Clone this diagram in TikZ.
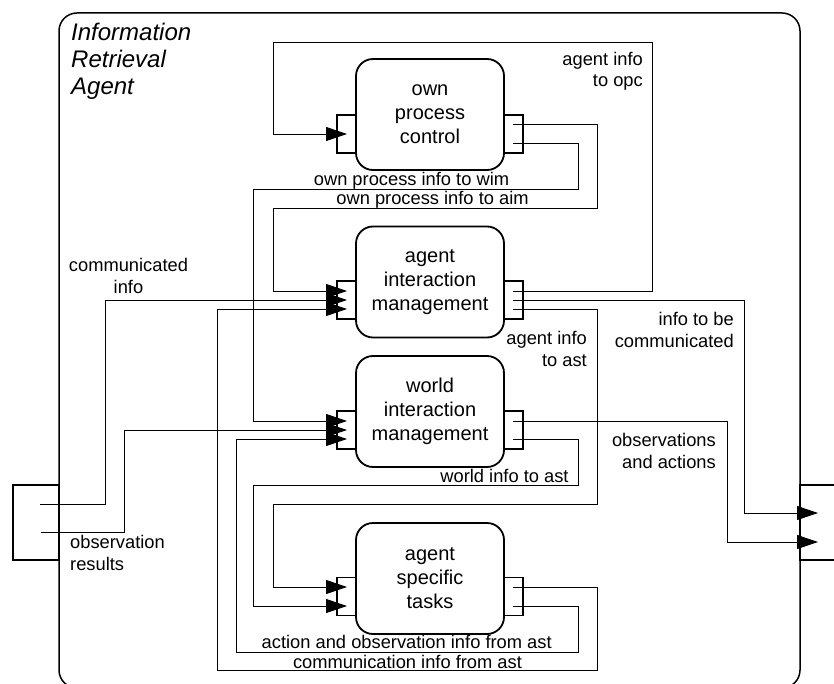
\documentclass[tikz,border=0pt]{standalone}
\usepackage{fontspec}
\setmainfont{Liberation Sans}
\usetikzlibrary{arrows.meta}
\begin{document}
\begin{tikzpicture}[x=1pt,y=-1pt,
  module/.style={draw,line width=1.8pt,rounded corners=17pt,fill=white,minimum width=148pt,minimum height=111pt,align=center,inner sep=0pt,font=\fontsize{20}{24}\selectfont},
  port/.style={draw,line width=1.8pt,minimum width=19pt,minimum height=38pt,inner sep=0pt},
  conn/.style={line width=0.9pt},
  arr/.style={conn,-{Triangle[length=21pt,width=14pt]}},
  lbl/.style={font=\fontsize{18.3}{21.5}\selectfont,inner sep=0pt},
]
\useasboundingbox (0,0) rectangle (834,684);
% outer agent box
\node[draw,line width=1.5pt,rounded corners=18pt,minimum width=741pt,minimum height=675pt,inner sep=0pt] (agent) at (429.5,350.5) {};
\node[anchor=base west,align=left,inner sep=0pt,font=\itshape\fontsize{24}{27}\selectfont] (title) at (71,95) {Information\\Retrieval\\Agent};
% agent ports
\node[draw,line width=1.5pt,minimum width=46pt,minimum height=75pt,inner sep=0pt] (inport) at (36,522.5) {};
\node[draw,line width=1.5pt,minimum width=50pt,minimum height=75pt,inner sep=0pt] (outport) at (825,522.5) {};
% modules
\node[port] (opcL) at (346.5,134) {};
\node[port] (opcR) at (513.5,134) {};
\node[module] (opc) at (430,114.5) {own\\process\\control};
\node[port] (aimL) at (346.5,300) {};
\node[port] (aimR) at (513.5,300) {};
\node[module] (aim) at (430,282) {agent\\interaction\\management};
\node[port] (wimL) at (346.5,430) {};
\node[port] (wimR) at (513.5,430) {};
\node[module] (wim) at (430,411.5) {world\\interaction\\management};
\node[port] (astL) at (346.5,596.5) {};
\node[port] (astR) at (513.5,596.5) {};
\node[module] (ast) at (430,578.5) {agent\\specific\\tasks};
% pins
\coordinate (opcI) at (347,134);
\coordinate (opcO1) at (513,124);
\coordinate (opcO2) at (513,143);
\coordinate (aimI1) at (347,291);
\coordinate (aimI2) at (347,300);
\coordinate (aimI3) at (347,309);
\coordinate (aimO1) at (513,291);
\coordinate (aimO2) at (513,300);
\coordinate (aimO3) at (513,309);
\coordinate (wimI1) at (347,421);
\coordinate (wimI2) at (347,430);
\coordinate (wimI3) at (347,439);
\coordinate (wimO1) at (513,421);
\coordinate (wimO3) at (513,439);
\coordinate (astI1) at (347,587);
\coordinate (astI2) at (347,606);
\coordinate (astO1) at (513,587);
\coordinate (astO2) at (513,606);
\coordinate (inO1) at (40,504);
\coordinate (inO2) at (41,532);
\coordinate (outI1) at (818,513);
\coordinate (outI2) at (818,542);
% connectors
\draw[arr] (aimO1) -| (652,42) -| (273,134) -- (opcI);
\draw[arr] (opcO1) -| (597,208) -| (273,291) -- (aimI1);
\draw[arr] (opcO2) -| (578,189) -| (253,421) -- (wimI1);
\draw[arr] (inO1) -| (105,300) -- (aimI2);
\draw[arr] (astO1) -| (597,670) -| (217,309) -- (aimI3);
\draw[arr] (aimO2) -| (744,513) -- (outI1);
\draw[arr] (aimO3) -| (597,504) -| (273,587) -- (astI1);
\draw[arr] (inO2) -| (124,430) -- (wimI2);
\draw[arr] (astO2) -| (578,652) -| (236,439) -- (wimI3);
\draw[arr] (wimO1) -| (727,542) -- (outI2);
\draw[arr] (wimO3) -| (578,485) -| (253,606) -- (astI2);
% labels
\node[lbl,anchor=base east,align=right] (l1) at (643,87) {agent info\\to opc};
\node[lbl,anchor=base] (l2) at (411.5,186) {own process info to wim};
\node[lbl,anchor=base] (l3) at (432.5,205) {own process info to aim};
\node[lbl,anchor=base,align=center] (l4) at (128.5,293) {communicated\\info};
\node[lbl,anchor=base east,align=right] (l5) at (587,366) {agent info\\to ast};
\node[lbl,anchor=base east,align=right] (l6) at (734,347) {info to be\\communicated};
\node[lbl,anchor=base east,align=right] (l7) at (716,468) {observations\\and actions};
\node[lbl,anchor=base] (l8) at (504.5,482) {world info to ast};
\node[lbl,anchor=base west,align=left] (l9) at (70,570) {observation\\results};
\node[lbl,anchor=base] (l10) at (406.7,648) {action and observation info from ast};
\node[lbl,anchor=base] (l11) at (407.5,668) {communication info from ast};
\end{tikzpicture}
\end{document}
